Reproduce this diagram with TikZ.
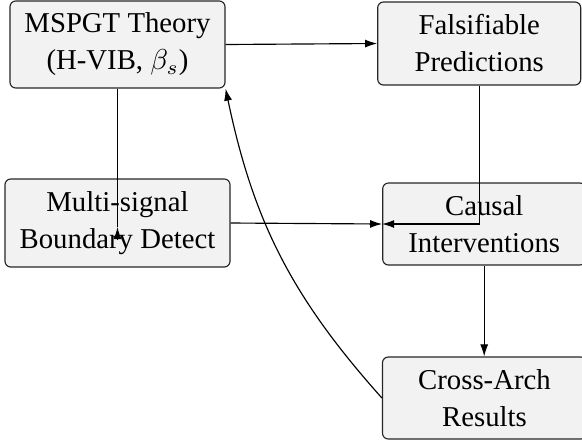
\documentclass[tikz,border=0pt]{standalone}
\usepackage{fontspec}
\setmainfont{Liberation Serif}
\usetikzlibrary{arrows.meta}
\begin{document}
\begin{tikzpicture}[x=0.3478pt,y=-0.3478pt,
  box/.style={draw=black!85, fill=gray!10, rounded corners=2pt, inner sep=0pt,
    align=center, font=\fontsize{10pt}{12.87pt}\selectfont},
  arr/.style={-{Latex[length=4.2pt,width=2.8pt]}},
  rarr/.style={{Latex[length=4.2pt,width=2.8pt]}-}]
\useasboundingbox (0,0) rectangle (582,443);
\clip (0,0) rectangle (582,443);
\node[box, minimum width=74.78pt, minimum height=30.26pt] (theory) at (117.5,44.5) {MSPGT Theory\\(H-VIB, $\beta_s$)};
\node[box, minimum width=70.60pt, minimum height=28.87pt] (pred) at (479.2,43.5) {Falsifiable\\Predictions};
\node[box, minimum width=78.26pt, minimum height=30.61pt] (detect) at (117.5,223) {Multi-signal\\Boundary Detect};
\node[box, minimum width=70.60pt, minimum height=28.52pt] (causal) at (484.2,224) {Causal\\Interventions};
\node[box, minimum width=70.95pt, minimum height=28.52pt] (cross) at (484.5,398) {Cross-Arch\\Results};
\coordinate (dtip) at ([yshift=-1.4pt]detect.center);
\draw[arr] (theory.east) -- (pred.west);
\draw (theory.south) -- (dtip);
\draw[rarr] (dtip) -- ++(0,12.1);
\draw[arr] (pred) |- (causal);
\draw[arr] (detect.east) -- (causal.west);
\draw[arr] (causal.south) -- (causal.south |- cross.north);
\draw[arr] (cross.west) to[bend left=15] (theory.south east);
\end{tikzpicture}
\end{document}
